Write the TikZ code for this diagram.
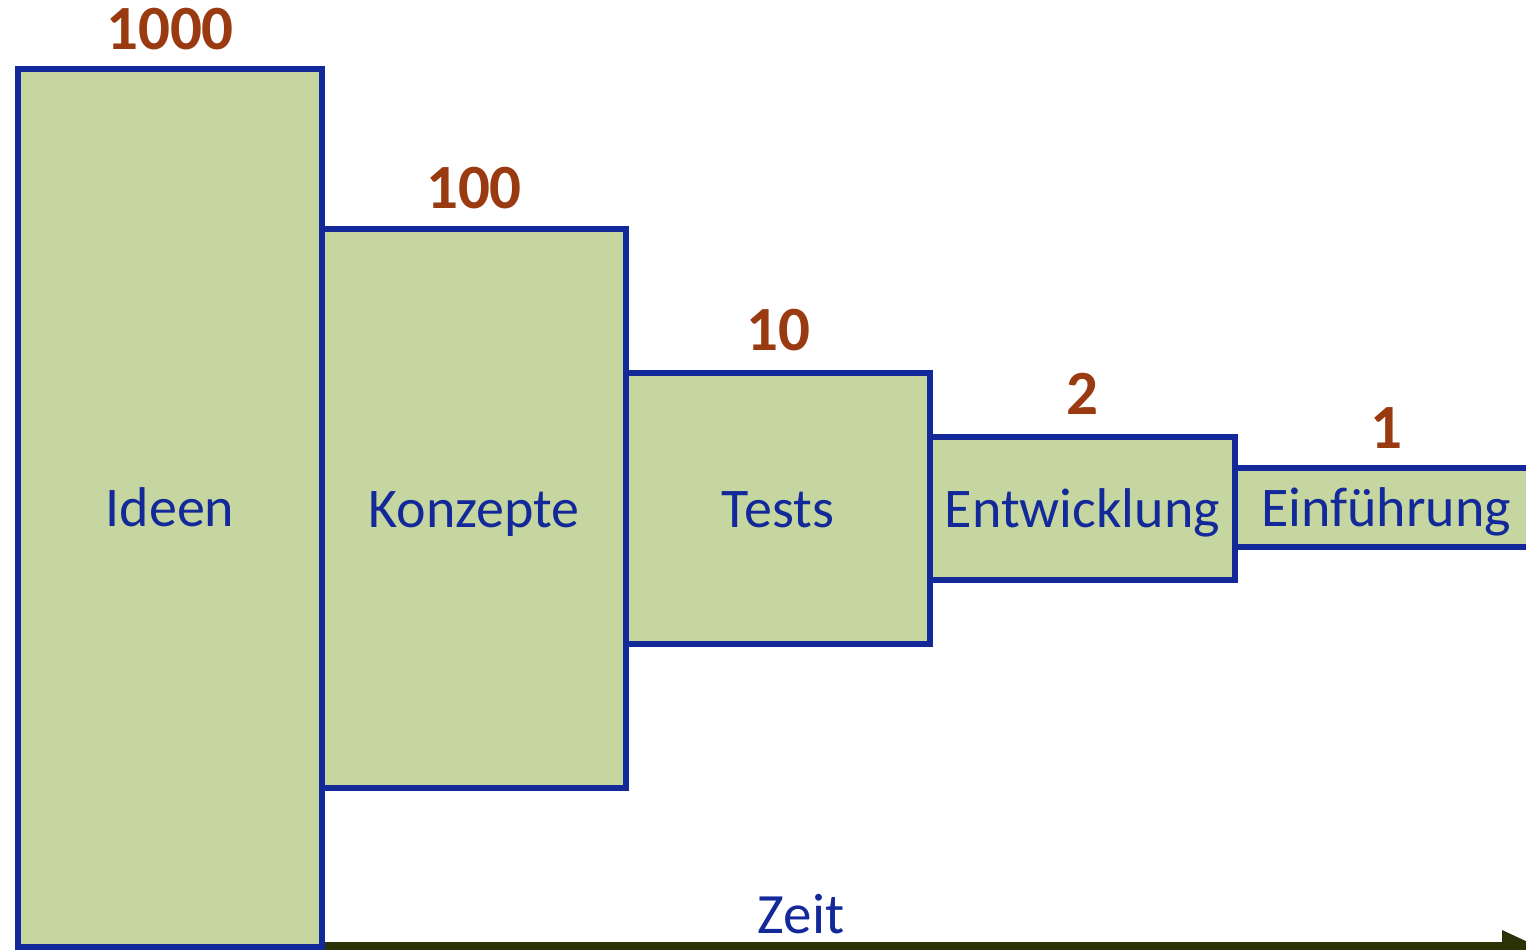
\documentclass[tikz,border=0pt]{standalone}
\usepackage{fontspec}
\setmainfont{Carlito}
\definecolor{fblue}{HTML}{13299A}
\definecolor{ffill}{HTML}{C5D6A0}
\definecolor{fbrown}{HTML}{9A3A10}
\definecolor{farrow}{HTML}{2B3206}
\begin{document}
\begin{tikzpicture}[x=1pt,y=-1pt,
  stage/.style={draw=fblue,fill=ffill,line width=6pt,rectangle,inner sep=0pt,outer sep=0pt,
    minimum width=304pt,text=fblue,font=\fontsize{56}{56}\selectfont,
    text height=37pt,text depth=0pt},
  count/.style={anchor=base,text=fbrown,inner sep=0pt,font=\fontsize{63}{63}\selectfont\bfseries}]
\useasboundingbox (0,0) rectangle (1526,950);
\begin{scope}
\clip (0,0) rectangle (1526,950);
\node[stage,minimum height=878pt] (ideen) at (170,508) {Ideen};
\node[stage,minimum height=559pt] (konz) at (474,508.5) {Konzepte};
\node[stage,minimum height=271pt] (tests) at (778,508.5) {Tests};
\node[stage,minimum width=305pt,minimum height=143pt] (entw) at (1082.5,508.5) {Entwicklung};
\node[stage,minimum width=302pt,minimum height=79pt] (einf) at (1386,507.5) {Einführung};
\fill[farrow] (ideen.south east) ++(3,-5) rectangle (1502,960);
\coordinate (tip) at (1545,950);
\fill[farrow] (1502,930) -- (tip) -- (1502,970) -- cycle;
\end{scope}
\node[count] at ([yshift=19pt]ideen.north) {1000};
\node[count] at ([yshift=21pt]konz.north) {100};
\node[count] at ([yshift=23pt]tests.north) {10};
\node[count] at ([yshift=23pt]entw.north) {2};
\node[count] at ([yshift=20pt]einf.north) {1};
\node[anchor=base,text=fblue,inner sep=0pt,font=\fontsize{57}{57}\selectfont] (zeit) at (801,933) {Zeit};
\end{tikzpicture}
\end{document}
